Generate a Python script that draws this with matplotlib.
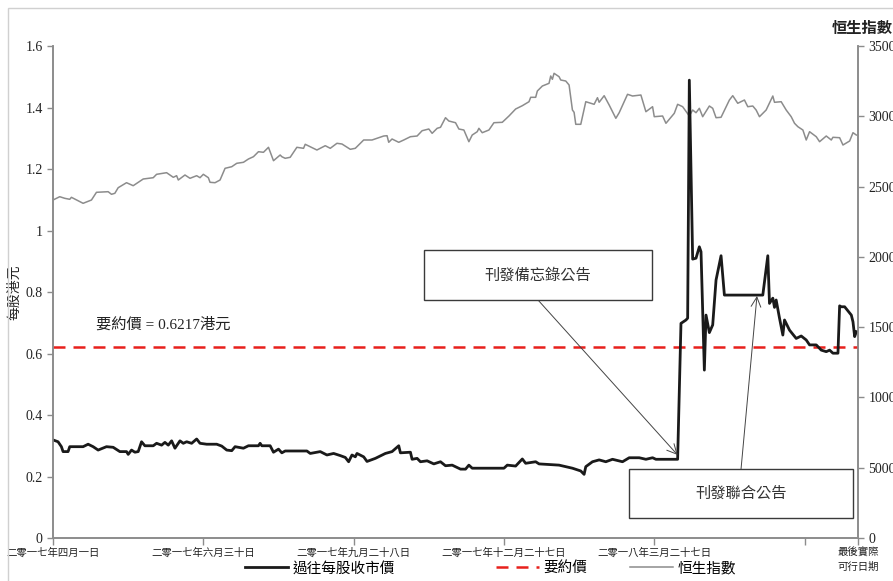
import matplotlib
matplotlib.use("Agg")
import matplotlib.pyplot as plt
from matplotlib.patches import Rectangle

# fonts: serif digits, CJK fallback
CJK = "Noto Sans CJK TC"
MIX = ["Liberation Serif", CJK]
plt.rcParams["font.family"] = MIX

# ---- data (x = days since 2017-04-01) ----
price_days = [0, 3, 5, 6, 9, 10, 18, 21, 24, 27,
              32, 36, 40, 44, 45, 47, 49, 51, 53, 55,
              60, 62, 65, 67, 69, 71, 73, 76, 78, 80,
              83, 86, 88, 92, 98, 101, 104, 107, 109, 114,
              117, 123, 124, 125, 130, 132, 135, 137, 139, 152,
              154, 160, 164, 168, 172, 175, 177, 179, 181, 182,
              186, 188, 193, 199, 203, 207, 208, 214, 215, 218,
              220, 224, 228, 232, 235, 239, 244, 247, 249, 251,
              270, 272, 277, 281, 283, 289, 291, 303, 311, 316,
              318, 319, 323, 327, 331, 335, 341, 345, 351, 355,
              359, 361, 374, 376, 379, 380, 381, 383, 385, 387,
              388, 390, 391, 393, 395, 397, 400, 402, 425, 428,
              429, 431, 432, 433, 435, 437, 438, 441, 445, 448,
              451, 453, 457, 460, 463, 465, 467, 470, 471, 472,
              474, 478, 479, 480, 481]
price_vals = [0.319, 0.313, 0.297, 0.281, 0.281, 0.297, 0.297, 0.305, 0.297, 0.286,
              0.297, 0.295, 0.281, 0.281, 0.272, 0.286, 0.279, 0.281, 0.313, 0.300,
              0.300, 0.308, 0.302, 0.311, 0.302, 0.316, 0.292, 0.316, 0.308, 0.313,
              0.308, 0.322, 0.308, 0.305, 0.305, 0.299, 0.286, 0.284, 0.297, 0.292,
              0.300, 0.300, 0.308, 0.300, 0.300, 0.279, 0.289, 0.277, 0.283, 0.283,
              0.275, 0.281, 0.270, 0.275, 0.268, 0.262, 0.248, 0.270, 0.264, 0.275,
              0.264, 0.249, 0.259, 0.275, 0.281, 0.300, 0.277, 0.279, 0.256, 0.259,
              0.248, 0.251, 0.241, 0.248, 0.235, 0.237, 0.224, 0.224, 0.237, 0.227,
              0.227, 0.237, 0.234, 0.257, 0.243, 0.248, 0.241, 0.237, 0.227, 0.218,
              0.207, 0.232, 0.248, 0.254, 0.248, 0.256, 0.248, 0.261, 0.261, 0.256,
              0.261, 0.256, 0.256, 0.698, 0.709, 0.715, 1.489, 0.907, 0.910, 0.947,
              0.931, 0.546, 0.725, 0.668, 0.693, 0.839, 0.918, 0.790, 0.790, 0.918,
              0.763, 0.780, 0.750, 0.774, 0.715, 0.660, 0.709, 0.676, 0.649, 0.657,
              0.644, 0.628, 0.628, 0.611, 0.606, 0.611, 0.601, 0.601, 0.755, 0.752,
              0.752, 0.725, 0.703, 0.655, 0.671]

hsi_days = [0, 4, 7, 10, 11, 18, 23, 26, 33, 35,
            37, 39, 44, 48, 51, 54, 60, 62, 68, 72,
            74, 75, 79, 82, 86, 88, 90, 93, 94, 97,
            100, 103, 107, 110, 114, 117, 120, 123, 126, 129,
            132, 136, 137, 139, 142, 146, 150, 151, 158, 163,
            166, 170, 173, 178, 181, 186, 191, 198, 200, 201,
            203, 207, 210, 214, 218, 221, 225, 227, 230, 232,
            235, 237, 241, 243, 246, 249, 251, 254, 255, 257,
            261, 264, 269, 273, 277, 281, 285, 286, 289, 290,
            293, 297, 298, 299, 300, 303, 304, 307, 309, 311,
            312, 313, 316, 319, 324, 326, 327, 330, 333, 337,
            339, 344, 347, 352, 355, 359, 360, 365, 367, 372,
            374, 377, 381, 383, 385, 387, 389, 393, 395, 397,
            400, 405, 407, 410, 414, 416, 419, 421, 423, 427,
            431, 432, 436, 439, 442, 444, 446, 449, 451, 453,
            457, 459, 463, 466, 467, 471, 473, 477, 479, 481]
hsi_vals = [24045, 24280, 24166, 24095, 24237, 23810, 24045, 24593, 24636, 24451,
            24522, 24920, 25276, 25063, 25304, 25539, 25632, 25873, 25988, 25660,
            25774, 25468, 25824, 25589, 25774, 25632, 25873, 25632, 25304, 25276,
            25468, 26300, 26414, 26656, 26727, 26962, 27126, 27481, 27439, 27794,
            26841, 27247, 27126, 27012, 27083, 27794, 27723, 28008, 27602, 27908,
            27723, 28079, 28029, 27652, 27723, 28314, 28314, 28598, 28620, 28150,
            28385, 28150, 28314, 28549, 28598, 28975, 29096, 28790, 29146, 29217,
            29900, 29665, 29544, 29096, 29025, 28193, 28669, 28904, 29146, 28833,
            29025, 29544, 29573, 30021, 30519, 30754, 31038, 31351, 31351, 31800,
            32155, 32347, 32867, 32632, 33059, 32817, 32582, 32511, 32226, 30448,
            30284, 29430, 29430, 31038, 30853, 31323, 30996, 31466, 30804, 29857,
            30256, 31565, 31444, 31515, 30327, 30683, 29972, 30021, 29502, 30213,
            30853, 30683, 30021, 30448, 30256, 30569, 29972, 30732, 30569, 29900,
            29929, 31159, 31466, 30925, 31159, 30683, 30732, 30448, 29972, 30448,
            31444, 30996, 31038, 30448, 29972, 29502, 29260, 29025, 28314, 28904,
            28549, 28193, 28598, 28314, 28506, 28477, 27958, 28243, 28833, 28669]

offer_price = 0.6217
last_day = 482
tick_days = [0, 90, 180, 270, 360, 450, last_day]
tick_labels = ["二零一七年四月一日", "二零一七年六月三十日", "二零一七年九月二十八日",
               "二零一七年十二月二十七日", "二零一八年三月二十七日", "", "最後實際\n可行日期"]
memo_day, memo_price = 374, 0.27
joint_day, joint_price = 421.5, 0.787

fig = plt.figure(figsize=(8.93, 5.81), dpi=100)
ax = fig.add_axes([0.0594, 0.074, 0.9014, 0.8468])
ax2 = ax.twinx()

# HSI behind the price line
ax.set_zorder(ax2.get_zorder() + 1)
ax.patch.set_visible(False)

l3, = ax2.plot(hsi_days, hsi_vals, color="#8c8c8c", lw=1.1)
l2 = ax.axhline(offer_price, color="#e8201c", lw=1.8, ls=(0, (4.8, 3.2)))
l1, = ax.plot(price_days, price_vals, color="#1a1a1a", lw=2.0)

ax.set_xlim(0, last_day)
ax.set_ylim(0, 1.6)
ax2.set_ylim(0, 35000)
ax.set_yticks([0, 0.2, 0.4, 0.6, 0.8, 1.0, 1.2, 1.4, 1.6])
ax.set_yticklabels(["0", "0.2", "0.4", "0.6", "0.8", "1", "1.2", "1.4", "1.6"])
ax2.set_yticks(range(0, 35001, 5000))
ax2.set_yticklabels([str(v) for v in range(0, 35001, 5000)])

ax.set_xticks(tick_days)
ax.set_xticklabels(tick_labels, family=CJK, fontsize=7.5, color="#333333",
                   va="top", linespacing=1.5)

for a in (ax, ax2):
    for s in a.spines.values():
        s.set_color("#8c8c8c")
        s.set_linewidth(1.2)
    a.spines["top"].set_visible(False)
    a.tick_params(colors="#8c8c8c", labelcolor="#222222", labelsize=10, length=4, width=1)
ax.tick_params(axis="x", length=5, pad=2, labelsize=7.5)

ax.set_ylabel("每股港元", family=CJK, fontsize=10, labelpad=3, color="#222222")
fig.text(0.965, 0.952, "恒生指數", family=CJK, fontsize=11, fontweight="bold",
         ha="center", va="center", color="#222222")

ax.text(26, 0.693, "要約價 = 0.6217港元", fontsize=11, family=MIX, va="center", color="#222222")

# announcement boxes
for (x0, y0, x1, y1, label) in [(0.461, 0.4837, 0.744, 0.5854, "刊發備忘錄公告"),
                                (0.7155, 0.0407, 0.9938, 0.1402, "刊發聯合公告")]:
    ax.add_patch(Rectangle((x0, y0), x1 - x0, y1 - y0, transform=ax.transAxes,
                           fill=True, facecolor="white", edgecolor="#3a3a3a", lw=1.0, zorder=5))
    ax.text((x0 + x1) / 2, (y0 + y1) / 2, label, transform=ax.transAxes, family=CJK,
            fontsize=11, ha="center", va="center", color="#333333", zorder=6)

arrow = dict(arrowstyle="->,head_length=0.7,head_width=0.35", color="#444444", lw=0.7,
             shrinkA=0, shrinkB=0)
ax.annotate("", xy=(memo_day, memo_price), xytext=(0.6025, 0.4837),
            textcoords="axes fraction", arrowprops=arrow, zorder=4)
ax.annotate("", xy=(joint_day, joint_price), xytext=(0.8547, 0.1402),
            textcoords="axes fraction", arrowprops=arrow, zorder=4)

# legend entries spaced like the original (uneven gaps)
for handle, label, x in [(l1, "過往每股收市價", 0.274), (l2, "要約價", 0.555), (l3, "恒生指數", 0.705)]:
    fig.legend([handle], [label], loc="center left", bbox_to_anchor=(x, 0.022),
               frameon=False, prop={"family": CJK, "size": 10.5}, handlelength=3.0,
               handletextpad=0.3, borderpad=0, borderaxespad=0)

# outer chart border
fig.patches.append(Rectangle((0.009, -0.2), 1.2, 1.186, transform=fig.transFigure,
                             fill=False, edgecolor="#d0d0d0", lw=1.0))

fig.savefig("out.png", dpi=100)
